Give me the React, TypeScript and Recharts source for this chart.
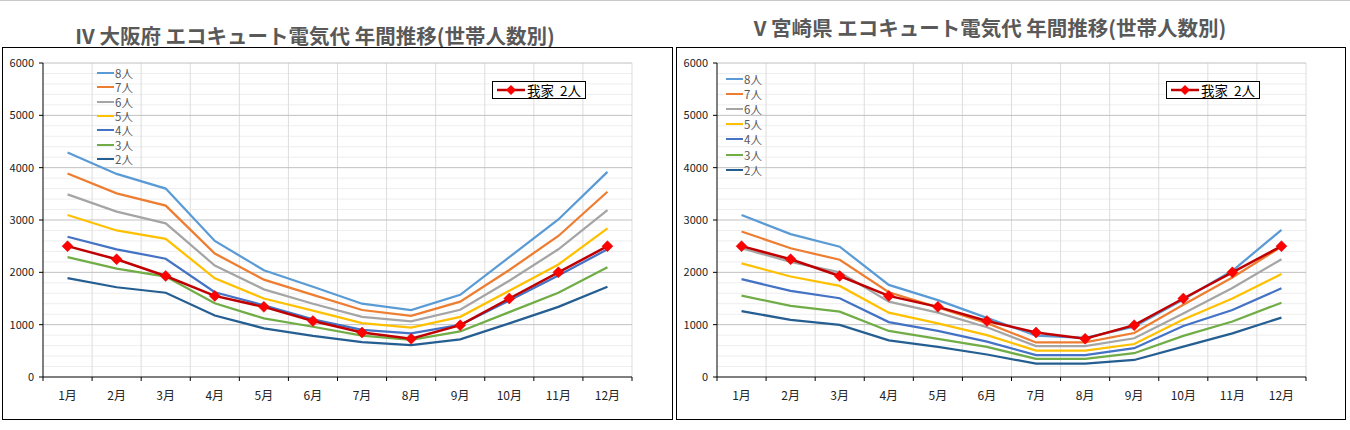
import React from 'react';
import { LineChart, Line, XAxis, YAxis, CartesianGrid } from 'recharts';

const months = ['1月', '2月', '3月', '4月', '5月', '6月', '7月', '8月', '9月', '10月', '11月', '12月'];
const seriesNames = ['8人', '7人', '6人', '5人', '4人', '3人', '2人'];
const seriesColors = ['#5b9bd5', '#ed7d31', '#a5a5a5', '#ffc000', '#4472c4', '#70ad47', '#255e91'];
const myName = '我家 2人';
const yTicks = [0, 1000, 2000, 3000, 4000, 5000, 6000];
const minorTicks = [200, 400, 600, 800, 1200, 1400, 1600, 1800, 2200, 2400, 2600, 2800, 3200, 3400, 3600, 3800, 4200, 4400, 4600, 4800, 5200, 5400, 5600, 5800];

const osakaTitle = 'IV 大阪府 エコキュート電気代 年間推移(世帯人数別)';
const osaka8 = [4290, 3880, 3600, 2600, 2040, 1725, 1400, 1280, 1570, 2290, 3010, 3920];
const osaka7 = [3890, 3510, 3275, 2360, 1860, 1570, 1280, 1170, 1440, 2045, 2695, 3540];
const osaka6 = [3490, 3160, 2935, 2130, 1675, 1400, 1150, 1065, 1285, 1840, 2440, 3190];
const osaka5 = [3095, 2800, 2640, 1885, 1500, 1270, 1030, 945, 1150, 1650, 2150, 2840];
const osaka4 = [2680, 2440, 2260, 1620, 1370, 1100, 900, 835, 995, 1460, 1940, 2440];
const osaka3 = [2290, 2070, 1920, 1410, 1120, 960, 790, 710, 870, 1240, 1610, 2095];
const osaka2 = [1890, 1715, 1610, 1175, 930, 785, 665, 610, 720, 1025, 1340, 1725];

const miyazakiTitle = 'V 宮崎県 エコキュート電気代 年間推移(世帯人数別)';
const miyazaki8 = [3095, 2730, 2490, 1760, 1470, 1130, 790, 750, 960, 1480, 2030, 2810];
const miyazaki7 = [2780, 2460, 2240, 1620, 1330, 1030, 660, 660, 840, 1380, 1900, 2490];
const miyazaki6 = [2460, 2200, 2000, 1440, 1230, 950, 590, 590, 740, 1215, 1700, 2250];
const miyazaki5 = [2170, 1920, 1740, 1230, 1025, 800, 505, 505, 630, 1100, 1500, 1970];
const miyazaki4 = [1870, 1645, 1505, 1050, 880, 675, 420, 420, 550, 975, 1280, 1695];
const miyazaki3 = [1555, 1360, 1250, 880, 730, 575, 345, 345, 455, 785, 1060, 1420];
const miyazaki2 = [1260, 1090, 995, 700, 575, 430, 255, 255, 325, 580, 835, 1135];

const myHome = [2500, 2250, 1930, 1550, 1340, 1070, 850, 730, 990, 1500, 2000, 2500];

const FONT = '"Noto Sans CJK JP", "Noto Sans", sans-serif';
const YMAX = 6000;

function buildRows(series: number[][]) {
  return months.map((m, i) => {
    const row: Record<string, any> = { month: m, mine: myHome[i] };
    series.forEach((s, k) => {
      row['s' + k] = s[i];
    });
    return row;
  });
}

const Diamond = (props: any) => {
  const { cx, cy, index } = props;
  if (cx == null || cy == null) return <g key={'d' + index} />;
  const r = 5.5;
  return (
    <path
      key={'d' + index}
      d={`M${cx} ${cy - r} L${cx + r} ${cy} L${cx} ${cy + r} L${cx - r} ${cy} Z`}
      fill="#ff0000"
      stroke="#e00000"
      strokeWidth={0.5}
    />
  );
};

const TICK_MARGIN = 14;

const makeTick = (bw: number) => (props: any) => {
  const { x, y, payload, index } = props;
  const axisY = y - TICK_MARGIN;
  return (
    <g>
      <line x1={x - bw / 2} x2={x - bw / 2} y1={axisY} y2={axisY + 4} stroke="#000" strokeWidth={1} />
      {index === months.length - 1 && (
        <line x1={x + bw / 2} x2={x + bw / 2} y1={axisY} y2={axisY + 4} stroke="#000" strokeWidth={1} />
      )}
      <text x={x} y={y} dy="0.71em" textAnchor="middle" fontSize={12} fill="#222" fontFamily={FONT}>
        {payload.value}
      </text>
    </g>
  );
};

const yPix = (p: any, v: number) => p.offset.top + p.offset.height * (1 - v / YMAX);

type PanelProps = {
  left: number;
  width: number;
  yAxisWidth: number;
  series: number[][];
};

const Panel = ({ left, width, yAxisWidth, series }: PanelProps) => {
  const data = buildRows(series);
  const plotW = width - yAxisWidth - 40;
  const bw = plotW / months.length;
  return (
    <div style={{ position: 'absolute', left, top: 0, width, height: 420 }}>
      <LineChart width={width} height={420} data={data} margin={{ top: 63, right: 40, bottom: 0, left: 0 }}>
        <CartesianGrid
          vertical={false}
          stroke="#eeeeee"
          strokeWidth={1}
          horizontalCoordinatesGenerator={(p: any) => minorTicks.map((v) => yPix(p, v))}
        />
        <CartesianGrid
          horizontal={false}
          stroke="#dddddd"
          strokeWidth={1}
          verticalCoordinatesGenerator={(p: any) =>
            months.map((_, i) => p.offset.left + ((i + 1) * p.offset.width) / months.length)
          }
        />
        <CartesianGrid
          vertical={false}
          stroke="#c0c0c0"
          strokeWidth={1}
          horizontalCoordinatesGenerator={(p: any) => yTicks.filter((v) => v > 0).map((v) => yPix(p, v))}
        />
        <XAxis
          dataKey="month"
          height={43}
          padding={{ left: bw / 2, right: bw / 2 }}
          tickSize={0}
          tickMargin={TICK_MARGIN}
          tickLine={false}
          interval={0}
          axisLine={{ stroke: '#000', strokeWidth: 1 }}
          tick={makeTick(bw)}
        />
        <YAxis
          width={yAxisWidth}
          domain={[0, YMAX]}
          ticks={yTicks}
          interval={0}
          tickSize={4}
          tickMargin={5}
          axisLine={{ stroke: '#000', strokeWidth: 1 }}
          tickLine={{ stroke: '#000', strokeWidth: 1 }}
          tick={{ fontSize: 11, fill: '#222', fontFamily: FONT }}
        />
        {seriesNames.map((n, k) => (
          <Line
            key={n}
            dataKey={'s' + k}
            name={n}
            type="linear"
            stroke={seriesColors[k]}
            strokeWidth={2.25}
            dot={false}
            activeDot={false}
            isAnimationActive={false}
          />
        ))}
        <Line
          dataKey="mine"
          name={myName}
          type="linear"
          stroke="#c00000"
          strokeWidth={2.5}
          dot={Diamond}
          activeDot={false}
          isAnimationActive={false}
        />
      </LineChart>
    </div>
  );
};

const SeriesLegend = ({ left, top, step }: { left: number; top: number; step: number }) => (
  <div style={{ position: 'absolute', left, top, fontFamily: FONT }}>
    {seriesNames.map((n, k) => (
      <div
        key={n}
        style={{
          position: 'absolute',
          left: 0,
          top: Math.round(k * step) - 7,
          height: 14,
          display: 'flex',
          alignItems: 'center',
          whiteSpace: 'nowrap',
        }}
      >
        <div style={{ width: 17, height: 2, background: seriesColors[k], marginRight: 1 }} />
        <span style={{ fontSize: 11.5, color: '#595959', lineHeight: '14px' }}>{n}</span>
      </div>
    ))}
  </div>
);

const MyLegend = ({ left, top }: { left: number; top: number }) => (
  <div
    style={{
      position: 'absolute',
      left,
      top,
      width: 94,
      height: 18,
      border: '1px solid #000',
      background: '#fff',
      fontFamily: FONT,
      display: 'flex',
      alignItems: 'center',
      boxSizing: 'border-box',
    }}
  >
    <svg width={34} height={16} style={{ display: 'block' }}>
      <line x1={4} x2={32} y1={8} y2={8} stroke="#c00000" strokeWidth={2.5} />
      <path d="M18 3 L23 8 L18 13 L13 8 Z" fill="#ff0000" />
    </svg>
    <span style={{ fontSize: 13.5, color: '#000', whiteSpace: 'pre', lineHeight: '16px' }}>{'我家  2人'}</span>
  </div>
);

const Title = ({ text, cx, cy }: { text: string; cx: number; cy: number }) => (
  <div
    style={{
      position: 'absolute',
      left: cx - 300,
      width: 600,
      top: cy - 14,
      height: 28,
      lineHeight: '28px',
      textAlign: 'center',
      fontFamily: FONT,
      fontWeight: 700,
      fontSize: 20.5,
      color: '#595959',
      whiteSpace: 'nowrap',
    }}
  >
    {text}
  </div>
);

export default function App() {
  return (
    <div style={{ position: 'absolute', left: 0, top: 0, width: 1350, height: 430, background: '#fff', overflow: 'hidden' }}>
      <div style={{ position: 'absolute', left: 0, top: 0, width: 1350, height: 1, background: '#c8c8c8' }} />
      <Title text={osakaTitle} cx={315} cy={35} />
      <Title text={miyazakiTitle} cx={990} cy={27} />
      <div style={{ position: 'absolute', left: 2, top: 47, width: 669, height: 371, border: '1px solid #000' }} />
      <div style={{ position: 'absolute', left: 676, top: 47, width: 668, height: 371, border: '1px solid #000' }} />
      <Panel left={0} width={672} yAxisWidth={43} series={[osaka8, osaka7, osaka6, osaka5, osaka4, osaka3, osaka2]} />
      <Panel
        left={676}
        width={670}
        yAxisWidth={41}
        series={[miyazaki8, miyazaki7, miyazaki6, miyazaki5, miyazaki4, miyazaki3, miyazaki2]}
      />
      <SeriesLegend left={97} top={73} step={14.3} />
      <SeriesLegend left={726} top={79} step={15.1} />
      <MyLegend left={492} top={81} />
      <MyLegend left={1166} top={81} />
    </div>
  );
}
